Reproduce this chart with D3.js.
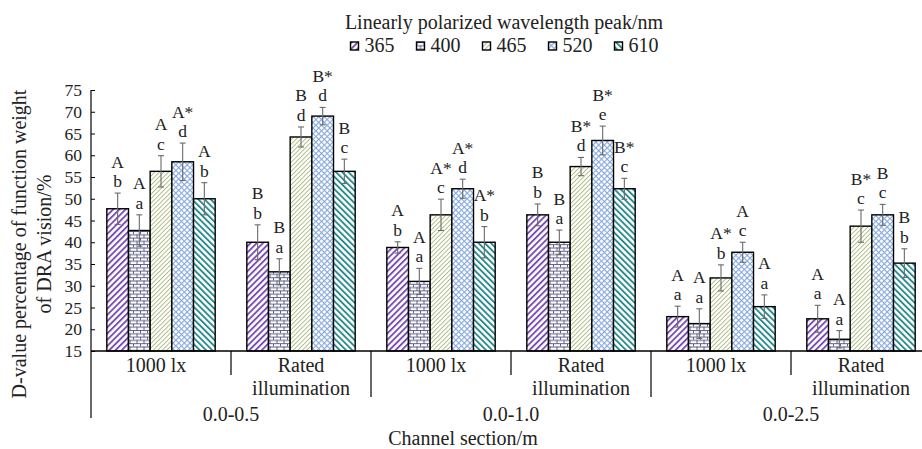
<!DOCTYPE html>
<html><head><meta charset="utf-8">
<script src="https://cdn.jsdelivr.net/npm/d3@7"></script>
<style>
html,body{margin:0;padding:0;background:#fff;}
svg{display:block;font-family:"Liberation Serif","Times New Roman",serif;}
</style></head>
<body><svg id="c" width="922" height="449"></svg>
<script>
const groups = ["0.0-0.5", "0.0-1.0", "0.0-2.5"];
const subgroups = ["1000 lx", "Rated|illumination"];
const series = ["365", "400", "465", "520", "610"];
const yTicks = [15, 20, 25, 30, 35, 40, 45, 50, 55, 60, 65, 70, 75];

// values per series across the 6 (group x subgroup) columns
const v365 = [47.7, 40.0, 38.8, 46.3, 22.9, 22.4];
const v400 = [42.7, 33.2, 31.0, 40.0, 21.3, 17.7];
const v465 = [56.3, 64.2, 46.3, 57.4, 31.8, 43.7];
const v520 = [58.5, 69.0, 52.3, 63.4, 37.7, 46.3];
const v610 = [50.0, 56.3, 40.0, 52.3, 25.2, 35.2];
const e365 = [3.6, 4.0, 1.3, 2.5, 2.4, 3.1];
const e400 = [3.6, 3.0, 3.0, 2.8, 3.4, 2.0];
const e465 = [3.6, 2.3, 3.6, 2.1, 3.0, 3.7];
const e520 = [4.3, 2.0, 2.2, 3.3, 2.3, 2.4];
const e610 = [3.7, 2.8, 3.6, 2.4, 2.7, 3.3];
const upper365 = ["A", "B", "A", "B", "A", "A"];
const upper400 = ["A", "B", "A", "B", "A", "A"];
const upper465 = ["A", "B", "A*", "B*", "A*", "B*"];
const upper520 = ["A*", "B*", "A*", "B*", "A", "B"];
const upper610 = ["A", "B", "A*", "B*", "A", "B"];
const lower365 = ["b", "b", "b", "b", "a", "a"];
const lower400 = ["a", "a", "a", "a", "a", "a"];
const lower465 = ["c", "d", "c", "d", "b", "c"];
const lower520 = ["d", "d", "d", "e", "c", "c"];
const lower610 = ["b", "c", "b", "c", "a", "b"];

const values = [v365, v400, v465, v520, v610];
const errors = [e365, e400, e465, e520, e610];
const uppers = [upper365, upper400, upper465, upper520, upper610];
const lowers = [lower365, lower400, lower465, lower520, lower610];

const columns = [];
groups.forEach((g, gi) => subgroups.forEach((s, si) => columns.push({g, s, gi, si, idx: gi * 2 + si})));

const svg = d3.select("#c");
const defs = svg.append("defs");

function stripes(id, color, spacing, width, angle) {
  const p = defs.append("pattern").attr("id", id).attr("patternUnits", "userSpaceOnUse")
    .attr("width", spacing).attr("height", spacing).attr("patternTransform", `rotate(${angle})`);
  p.append("rect").attr("width", spacing).attr("height", spacing).attr("fill", "#fff");
  p.append("rect").attr("x", 0).attr("y", 0).attr("width", width).attr("height", spacing).attr("fill", color);
}
stripes("p365", "#7a4fb0", 4.4, 1.9, 45);
stripes("p465", "#a9b97a", 3.2, 0.9, 45);
stripes("p610", "#2b8a8c", 4.4, 1.9, -45);
// brick
(function(){
  const p = defs.append("pattern").attr("id", "p400").attr("patternUnits", "userSpaceOnUse")
    .attr("width", 7).attr("height", 6.6);
  p.append("rect").attr("width", 7).attr("height", 6.6).attr("fill", "#fff");
  const c = "#5f5f88";
  p.append("rect").attr("x", 0).attr("y", 0).attr("width", 7).attr("height", 1).attr("fill", c);
  p.append("rect").attr("x", 0).attr("y", 3.3).attr("width", 7).attr("height", 1).attr("fill", c);
  p.append("rect").attr("x", 0).attr("y", 0).attr("width", 1).attr("height", 3.3).attr("fill", c);
  p.append("rect").attr("x", 3.5).attr("y", 3.3).attr("width", 1).attr("height", 3.3).attr("fill", c);
})();
// crosshatch dotted
(function(){
  const p = defs.append("pattern").attr("id", "p520").attr("patternUnits", "userSpaceOnUse")
    .attr("width", 4).attr("height", 4).attr("patternTransform", "rotate(45)");
  p.append("rect").attr("width", 4).attr("height", 4).attr("fill", "#fff");
  const c = "#86a8dc";
  p.append("rect").attr("x", 0).attr("y", 0).attr("width", 4).attr("height", 1.1).attr("fill", c);
  p.append("rect").attr("x", 0).attr("y", 0).attr("width", 1.1).attr("height", 4).attr("fill", c);
})();
const fills = series.map(s => `url(#p${s})`);

// scales
const x0 = d3.scaleBand().domain(columns.map(c => c.idx)).range([91, 931]).padding(0);
const x1 = d3.scaleBand().domain(series).range([0, x0.bandwidth()]).paddingInner(0).paddingOuter(0.73);
const y = d3.scaleLinear().domain([15, 75]).range([351, 90]);

// y axis
const yAxis = d3.axisLeft(y).tickValues(yTicks).tickSizeInner(-4).tickSizeOuter(0).tickPadding(9);
const ya = svg.append("g").attr("transform", "translate(91,0)").call(yAxis);
ya.select(".domain").remove();
ya.selectAll("line").attr("stroke", "#000").attr("stroke-width", 1);
ya.selectAll("text").attr("font-family", "Liberation Serif").attr("font-size", 17.5).attr("fill", "#222");
svg.append("line").attr("x1", 91).attr("x2", 91).attr("y1", y(75)).attr("y2", 418).attr("stroke", "#000").attr("stroke-width", 1.2);

// bars
const colG = svg.append("g").selectAll("g").data(columns).join("g")
  .attr("transform", d => `translate(${x0(d.idx)},0)`);
series.forEach((s, i) => {
  colG.append("rect")
    .attr("x", x1(s)).attr("width", x1.bandwidth())
    .attr("y", d => y(values[i][d.idx])).attr("height", d => y(15) - y(values[i][d.idx]))
    .attr("fill", fills[i]).attr("stroke", "#000").attr("stroke-width", 1.4);
  const cx = x1(s) + x1.bandwidth() / 2;
  // error bars
  colG.append("line").attr("x1", cx).attr("x2", cx)
    .attr("y1", d => y(values[i][d.idx] + errors[i][d.idx]))
    .attr("y2", d => y(values[i][d.idx] - errors[i][d.idx]))
    .attr("stroke", "#6a6a6a").attr("stroke-width", 1.1);
  [1, -1].forEach(sg => {
    colG.append("line").attr("x1", cx - 3).attr("x2", cx + 3)
      .attr("y1", d => y(values[i][d.idx] + sg * errors[i][d.idx]))
      .attr("y2", d => y(values[i][d.idx] + sg * errors[i][d.idx]))
      .attr("stroke", "#6a6a6a").attr("stroke-width", 1.1);
  });
  // significance letters (two lines in one text element)
  const t = colG.append("text").attr("text-anchor", "middle").attr("font-size", 17.5).attr("fill", "#222");
  t.append("tspan").attr("x", cx).attr("y", d => y(values[i][d.idx] + errors[i][d.idx]) - 25.5)
    .text(d => uppers[i][d.idx]);
  t.append("tspan").attr("x", cx).attr("y", d => y(values[i][d.idx] + errors[i][d.idx]) - 6)
    .text(d => lowers[i][d.idx]);
});

// x axis baseline
svg.append("line").attr("x1", 91).attr("x2", 931).attr("y1", y(15)).attr("y2", y(15)).attr("stroke", "#000").attr("stroke-width", 1.4);
// separators
columns.forEach(c => {
  const xr = x0(c.idx) + x0.bandwidth();
  svg.append("line").attr("x1", xr).attr("x2", xr).attr("y1", y(15))
    .attr("y2", c.si === 1 ? 397 : 375).attr("stroke", "#000").attr("stroke-width", 1.2);
});
// subgroup labels
columns.forEach(c => {
  const cx = x0(c.idx) + x0.bandwidth() / 2;
  const lines = c.s.split("|");
  const t = svg.append("text").attr("text-anchor", "middle").attr("font-size", 20).attr("fill", "#222");
  lines.forEach((s, k) => {
    t.append("tspan").attr("x", lines.length === 1 ? cx - 5 : cx).attr("y", 372 + k * 23).text(s);
  });
});
// group labels
groups.forEach((g, gi) => {
  const cx = x0(gi * 2) + x0.bandwidth();
  svg.append("text").attr("x", cx).attr("y", 421).attr("text-anchor", "middle")
    .attr("font-size", 20).attr("fill", "#222").text(g);
});
// x title
svg.append("text").attr("x", 463).attr("y", 445).attr("text-anchor", "middle")
  .attr("font-size", 20).attr("fill", "#222").text("Channel section/m");
// y title
const yt = svg.append("text").attr("transform", "translate(26,244) rotate(-90)")
  .attr("text-anchor", "middle").attr("font-size", 20).attr("fill", "#222");
yt.append("tspan").attr("x", 0).attr("y", 0).text("D-value percentage of function weight");
yt.append("tspan").attr("x", 0).attr("y", 25).text("of DRA vision/%");

// legend
svg.append("text").attr("x", 504).attr("y", 29).attr("text-anchor", "middle")
  .attr("font-size", 20).attr("fill", "#222").text("Linearly polarized wavelength peak/nm");
const lg = svg.append("g").selectAll("g").data(series).join("g")
  .attr("transform", (d, i) => `translate(${350.5 + i * 66},42)`);
lg.append("rect").attr("width", 8).attr("height", 8).attr("fill", (d, i) => fills[i])
  .attr("stroke", "#000").attr("stroke-width", 1.4);
lg.append("text").attr("x", 14).attr("y", 10).attr("font-size", 20).attr("fill", "#222").text(d => d);
</script></body></html>
